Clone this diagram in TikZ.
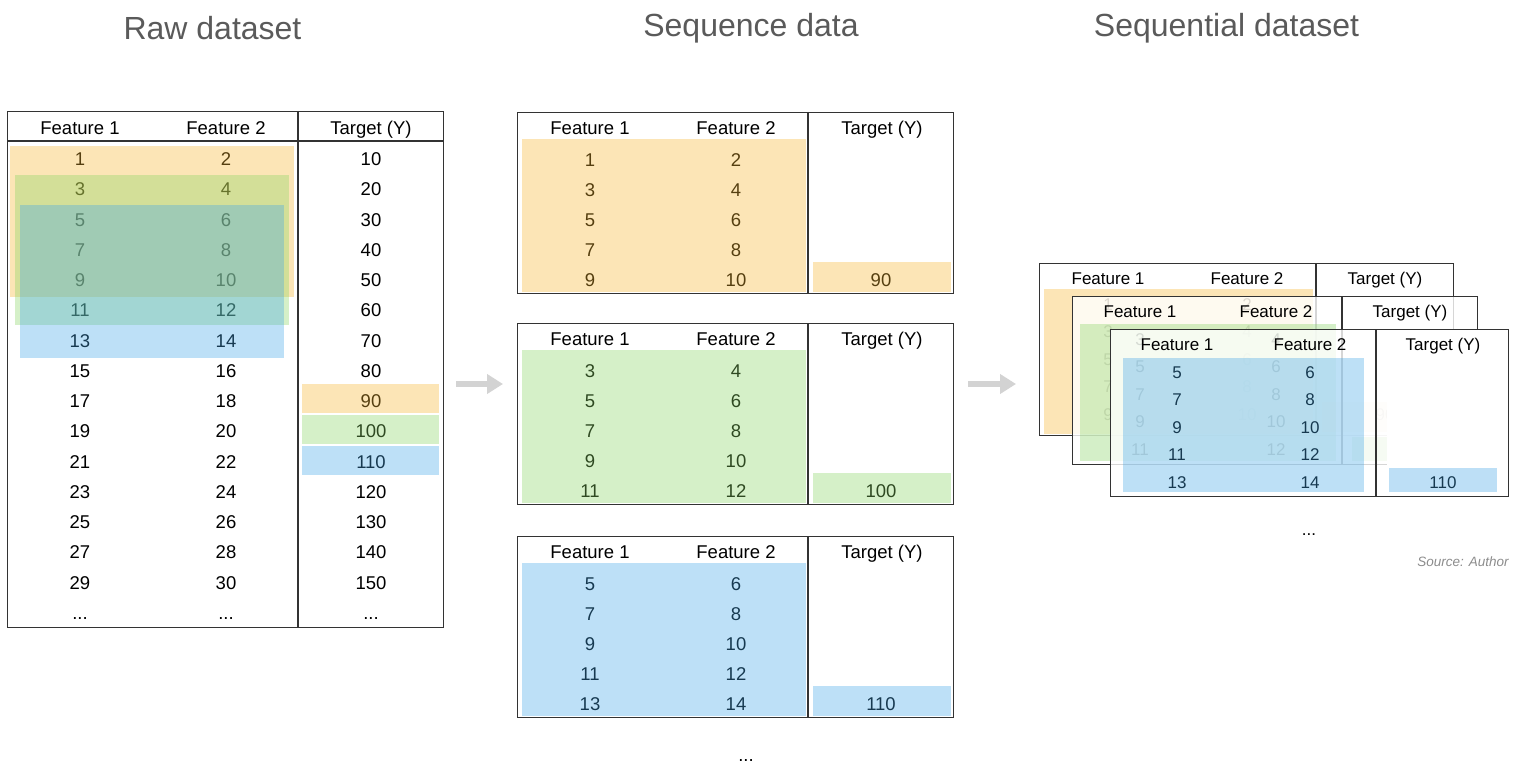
\documentclass[tikz,border=0pt]{standalone}
\usepackage{fontspec}
\setmainfont{Liberation Sans}
\usetikzlibrary{arrows.meta}
\definecolor{tline}{HTML}{333333}
\definecolor{hlo}{HTML}{F6B52E}
\definecolor{hlg}{HTML}{87D462}
\definecolor{hlb}{HTML}{42A6E8}
\definecolor{titlegray}{HTML}{5A5A5A}
\definecolor{arrgray}{HTML}{D3D3D3}
\definecolor{srcgray}{HTML}{8C8C8C}
\begin{document}
\begin{tikzpicture}[x=1pt,y=-1pt,
  tbl/.style={draw=tline, line width=1.4pt, inner sep=0pt, anchor=north west},
  tline/.style={draw=tline, line width=1.4pt},
  cell/.style={font=\fontsize{18.5}{20}\selectfont, inner sep=0pt, text height=13.2pt, text depth=0pt, text=black},
  scell/.style={font=\fontsize{17}{19}\selectfont, inner sep=0pt, text height=12.2pt, text depth=0pt, text=black},
  hl/.style={fill=#1, fill opacity=0.35},
  veil/.style={fill=white, fill opacity=0.8},
  title/.style={font=\fontsize{32}{36}\selectfont, text=titlegray, inner sep=0pt},
  bigarrow/.style={draw=arrgray, line width=6pt, -{Triangle[length=16pt,width=19pt]}}
]
\useasboundingbox (0,0) rectangle (1522,762);

% titles
\node[title] (t1) at (212.5,28) {Raw dataset};
\node[title] (t2) at (751,28) {Sequence data};
\node[title] (t3) at (1226.5,28) {Sequential dataset};

% ---------------- raw dataset
\node[tbl, minimum width=436pt, minimum height=516pt] (raw) at (7,111) {};
\draw[tline] (7,141) -- (443,141);
\draw[tline] (298,111) -- (298,627);
\node[cell] (rh1) at (80,127.5) {Feature 1};
\node[cell] (rh2) at (226,127.5) {Feature 2};
\node[cell] (rh3) at (371,127.5) {Target (Y)};
\foreach \i in {0,...,14}{
  \pgfmathtruncatemacro\fa{2*\i+1}
  \pgfmathtruncatemacro\fb{2*\i+2}
  \pgfmathtruncatemacro\tg{10*(\i+1)}
  \node[cell] (ra\i) at (80,{159+30.26*\i}) {\fa};
  \node[cell] (rb\i) at (226,{159+30.26*\i}) {\fb};
  \node[cell] (rc\i) at (371,{159+30.26*\i}) {\tg};
}
\node[cell] (rad) at (80,613) {...};
\node[cell] (rbd) at (226,613) {...};
\node[cell] (rcd) at (371,613) {...};
\fill[hl=hlo] (10,146) rectangle (294,297);
\fill[hl=hlg] (15,175) rectangle (289,325);
\fill[hl=hlb] (20,205) rectangle (284,358);
\fill[hl=hlo] (302,384) rectangle (439,413);
\fill[hl=hlg] (302,415) rectangle (439,444);
\fill[hl=hlb] (302,446) rectangle (439,475);

% ---------------- sequence data
\foreach \k/\off/\col/\v in {1/0/hlo/1, 2/211/hlg/3, 3/424/hlb/5}{
  \begin{scope}[shift={(0,\off)}]
    \node[tbl, minimum width=436pt, minimum height=181pt] (seq\k) at (517,112) {};
    \draw[tline] (808,112) -- (808,293);
    \node[cell] (s\k h1) at (590,127.5) {Feature 1};
    \node[cell] (s\k h2) at (736,127.5) {Feature 2};
    \node[cell] (s\k h3) at (882,127.5) {Target (Y)};
    \foreach \j in {0,...,4}{
      \pgfmathtruncatemacro\fa{\v+2*\j}
      \pgfmathtruncatemacro\fb{\v+2*\j+1}
      \node[cell] (s\k a\j) at (590,{159.5+30.1*\j}) {\fa};
      \node[cell] (s\k b\j) at (736,{159.5+30.1*\j}) {\fb};
    }
    \pgfmathtruncatemacro\tg{80+10*\k}
    \node[cell] (s\k t) at (881,280) {\tg};
    \fill[hl=\col] (522,139) rectangle (806,292);
    \fill[hl=\col] (813,262) rectangle (951,292);
  \end{scope}
}
\node[cell, anchor=base] (sdots) at (746,761) {...};

% ---------------- arrows
\coordinate (a1s) at (456,384);
\coordinate (a1e) at (503,384);
\coordinate (a2s) at (968,384);
\coordinate (a2e) at (1016,384);
\draw[bigarrow] (a1s) -- (a1e);
\draw[bigarrow] (a2s) -- (a2e);

% ---------------- sequential dataset (stack)
% table A
\node[tbl, line width=1.3pt, minimum width=414pt, minimum height=172pt] (stA) at (1039,263) {};
\draw[tline, line width=1.3pt] (1316,263) -- (1316,435);
\node[scell] (Ah1) at (1108,278) {Feature 1};
\node[scell] (Ah2) at (1247,278) {Feature 2};
\node[scell] (Ah3) at (1385,278) {Target (Y)};
\foreach \j in {0,...,4}{
  \pgfmathtruncatemacro\fa{1+2*\j}
  \pgfmathtruncatemacro\fb{2+2*\j}
  \node[scell] (Aa\j) at (1108,{304+27.5*\j}) {\fa};
  \node[scell] (Ab\j) at (1247,{304+27.5*\j}) {\fb};
}
\node[scell] (At) at (1385,414) {90};
\fill[hl=hlo] (1044,289) rectangle (1313,434);
\fill[hl=hlo] (1322,402) rectangle (1448,432);

% table B
\fill[veil] (1072,296) rectangle (1477,464);
\node[tbl, line width=1.3pt, minimum width=405pt, minimum height=168pt] (stB) at (1072,296) {};
\draw[tline, line width=1.3pt] (1342,296) -- (1342,464);
\node[scell] (Bh1) at (1140,311) {Feature 1};
\node[scell] (Bh2) at (1276,311) {Feature 2};
\node[scell] (Bh3) at (1410,311) {Target (Y)};
\foreach \j in {0,...,4}{
  \pgfmathtruncatemacro\fa{3+2*\j}
  \pgfmathtruncatemacro\fb{4+2*\j}
  \node[scell] (Ba\j) at (1140,{339+27.5*\j}) {\fa};
  \node[scell] (Bb\j) at (1276,{339+27.5*\j}) {\fb};
}
\node[scell] (Bt) at (1410,449) {100};
\fill[hl=hlg] (1080,324) rectangle (1336,461);
\fill[hl=hlg] (1352,437) rectangle (1470,461);

% table C
\fill[veil] (1110,329) rectangle (1387,496);
\fill[white] (1387,329) rectangle (1508,496);
\node[tbl, line width=1.3pt, minimum width=398pt, minimum height=167pt] (stC) at (1110,329) {};
\draw[tline, line width=1.3pt] (1376,329) -- (1376,496);
\node[scell] (Ch1) at (1177,344) {Feature 1};
\node[scell] (Ch2) at (1310,344) {Feature 2};
\node[scell] (Ch3) at (1443,344) {Target (Y)};
\foreach \j in {0,...,4}{
  \pgfmathtruncatemacro\fa{5+2*\j}
  \pgfmathtruncatemacro\fb{6+2*\j}
  \node[scell] (Ca\j) at (1177,{372+27.5*\j}) {\fa};
  \node[scell] (Cb\j) at (1310,{372+27.5*\j}) {\fb};
}
\node[scell] (Ct) at (1443,482) {110};
\fill[hl=hlb] (1123,358) rectangle (1364,492);
\fill[hl=hlb] (1389,468) rectangle (1497,492);

\node[scell, anchor=base] (stdots) at (1309,535) {...};
\node[font=\fontsize{13.5}{15}\selectfont\itshape, text=srcgray, inner sep=0pt] (src) at (1463,562) {Source: Author};
\end{tikzpicture}
\end{document}
